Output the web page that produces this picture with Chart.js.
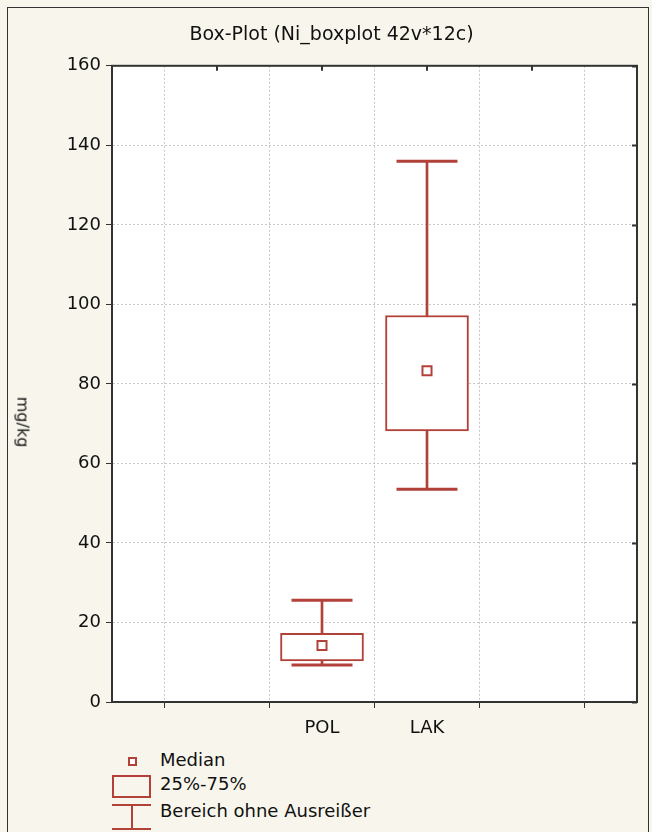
<!DOCTYPE html>
<html>
<head>
<meta charset="utf-8">
<script src="https://cdn.jsdelivr.net/npm/chart.js@4.4.0/dist/chart.umd.min.js"></script>
<style>
  body { margin: 0; background: #f8f6ec; }
  #wrap { position: relative; width: 652px; height: 832px; overflow: hidden; background: #f8f6ec;
          font-family: "DejaVu Sans", sans-serif; }
  #frame { position: absolute; left: 7px; top: 7px; width: 640px; height: 900px; border: 1px solid #333; }
  #chart { position: absolute; left: 0; top: 0; }
  .leg { position: absolute; left: 160px; font-size: 18px; color: #111; line-height: 20px; }
  .ico { position: absolute; box-sizing: border-box; }
  #ytitle { position: absolute; left: 23px; top: 422px; font-size: 16px; color: #111; white-space: nowrap;
            transform: translate(-50%, -50%) rotate(90deg); }
</style>
</head>
<body>
<div id="wrap">
  <div id="frame"></div>
  <canvas id="chart" width="652" height="745"></canvas>
  <div id="ytitle">mg/kg</div>
  <div class="ico" style="left:128px;top:757px;width:9px;height:9px;border:2px solid #b2413a;background:#fff"></div>
  <div class="leg" style="top:750px">Median</div>
  <div class="ico" style="left:112px;top:775px;width:39px;height:23px;border:2px solid #b2413a"></div>
  <div class="leg" style="top:774px">25%-75%</div>
  <div class="ico" style="left:112px;top:804px;width:39px;height:2px;background:#b2413a"></div>
  <div class="ico" style="left:131px;top:805px;width:2px;height:24px;background:#b2413a"></div>
  <div class="ico" style="left:112px;top:828px;width:39px;height:2px;background:#b2413a"></div>
  <div class="leg" style="top:801px">Bereich ohne Ausreißer</div>
</div>
<script>
const labels = ["", "", "POL", "LAK", "", ""];
const whiskerLow  = [null, null, 9.3, 53.5, null, null];
const q1          = [null, null, 10.3, 68.2, null, null];
const median      = [null, null, 14.2, 83.3, null, null];
const q3          = [null, null, 17.3, 97.2, null, null];
const whiskerHigh = [null, null, 25.6, 136, null, null];

const red = "#b2413a";

const boxes = q1.map((v, i) => v === null ? null : [v, q3[i]]);
const whiskers = whiskerLow.map((v, i) => v === null ? null : [v, whiskerHigh[i]]);

// white plot area, closed frame and inner ticks on top / right
const framePlugin = {
  id: "frame",
  beforeDraw(chart) {
    const { ctx, chartArea: a } = chart;
    ctx.save();
    ctx.fillStyle = "#ffffff";
    ctx.fillRect(a.left, a.top, a.right - a.left, a.bottom - a.top);
    ctx.restore();
  },
  afterDraw(chart) {
    const { ctx, chartArea: a, scales } = chart;
    ctx.save();
    ctx.strokeStyle = "#333";
    ctx.lineWidth = 2;
    ctx.strokeRect(a.left, a.top, a.right - a.left, a.bottom - a.top);
    ctx.beginPath();
    scales.y.ticks.forEach(t => {
      const y = Math.round(scales.y.getPixelForValue(t.value)) + 0.5;
      ctx.moveTo(a.right - 5, y);
      ctx.lineTo(a.right, y);
    });
    scales.x.ticks.forEach((t, i) => {
      const x = Math.round(scales.x.getPixelForTick(i));
      ctx.moveTo(x, a.top);
      ctx.lineTo(x, a.top + 5);
    });
    ctx.stroke();
    ctx.restore();
  }
};

const gridOpts = { color: "#c8c8c8", tickColor: "#333", tickLength: 6, tickBorderDash: [] };

new Chart(document.getElementById("chart"), {
  type: "bar",
  data: {
    labels: labels,
    datasets: [
      {
        type: "line", label: "Median", data: median, showLine: false,
        pointStyle: "rect", pointRadius: 6.4, pointBorderWidth: 2,
        pointBackgroundColor: "#fff", pointBorderColor: red, order: 0
      },
      {
        type: "line", label: "Max", data: whiskerHigh, showLine: false,
        pointStyle: "line", pointRadius: 30.5, pointBorderWidth: 3,
        pointBorderColor: red, order: 1
      },
      {
        type: "line", label: "Min", data: whiskerLow, showLine: false,
        pointStyle: "line", pointRadius: 30.5, pointBorderWidth: 3,
        pointBorderColor: red, order: 1
      },
      {
        label: "25%-75%", data: boxes, grouped: false, barThickness: 83,
        backgroundColor: "#fff", borderColor: red, borderWidth: 2,
        borderSkipped: false, order: 2
      },
      {
        label: "Whisker", data: whiskers, grouped: false, barThickness: 2,
        backgroundColor: red, borderWidth: 0, order: 3
      }
    ]
  },
  options: {
    responsive: false,
    animation: false,
    layout: { autoPadding: false, padding: { left: 26, right: 15, top: 0, bottom: 0 } },
    plugins: {
      legend: { display: false },
      tooltip: { enabled: false },
      title: {
        display: true,
        text: "Box-Plot (Ni_boxplot 42v*12c)",
        color: "#111",
        font: { family: "DejaVu Sans", size: 19, weight: "normal" },
        padding: { top: 24, bottom: 19 }
      }
    },
    scales: {
      x: {
        offset: false,
        afterFit(s) { s.height = 43; s.paddingLeft = 0; s.paddingRight = 0; },
        grid: gridOpts,
        border: { color: "#333", width: 2, dash: [2, 2] },
        ticks: { color: "#111", padding: 10, font: { family: "DejaVu Sans", size: 18 }, maxRotation: 0, autoSkip: false }
      },
      y: {
        min: 0, max: 160,
        afterFit(s) { s.width = 86; },
        grid: gridOpts,
        border: { color: "#333", width: 2, dash: [2, 2] },
        ticks: { stepSize: 20, color: "#111", padding: 5, font: { family: "DejaVu Sans", size: 18 } }
      }
    }
  },
  plugins: [framePlugin]
});
</script>
</body>
</html>
